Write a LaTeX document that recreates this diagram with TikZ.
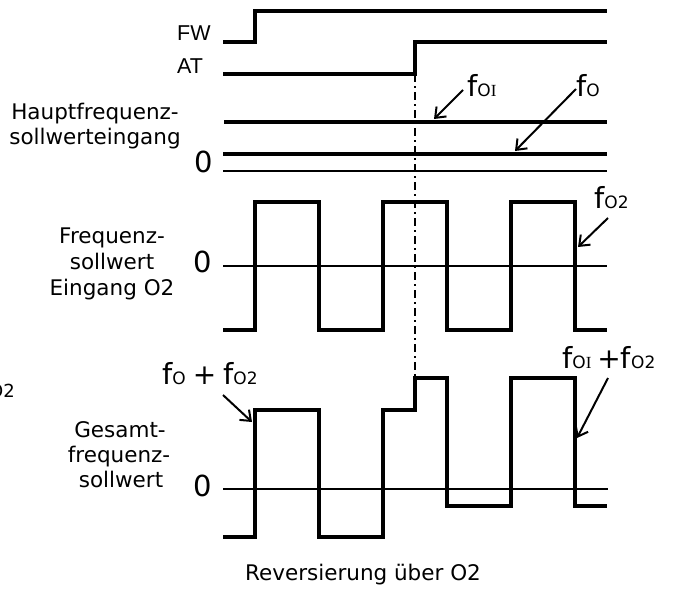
\documentclass[tikz,border=0pt]{standalone}
\usepackage{fontspec}
\setmainfont{DejaVu Sans}
\newfontfamily\arialf{Liberation Sans}
\newfontfamily\romanI{Liberation Serif}
\usetikzlibrary{arrows.meta}
\newcommand\lblfont{\fontsize{21.5}{25}\selectfont}
\newcommand\zerofont{\fontsize{29}{29}\selectfont}
\newcommand\fbig{{\fontsize{29}{29}\selectfont f}}
\newcommand\plusbig{{\fontsize{28}{28}\selectfont +}}
\newcommand\fsub[1]{{\fontsize{17}{17}\selectfont #1}}
\newcommand\romI{{\romanI I}}
\begin{document}
\begin{tikzpicture}[x=1pt,y=-1pt,
  sig/.style={line width=3.2pt, line join=miter},
  axisline/.style={line width=2pt},
  arr/.style={line width=2pt,-{Straight Barb[length=9pt,width=14pt,line width=2pt]}},
  txt/.style={inner sep=0pt, font=\lblfont, anchor=base},
  zlab/.style={inner sep=0pt, font=\zerofont},
  flab/.style={inner sep=0pt, anchor=base west},
  markerline/.style={line width=2pt, dash pattern=on 8pt off 4pt on 2pt off 4pt}]
\useasboundingbox (0,0) rectangle (674,590);

% ---- top panel ----
\node[inner sep=0pt, anchor=base west, font=\arialf\fontsize{21.5}{21.5}\selectfont] (fw) at (177,40) {FW};
\node[inner sep=0pt, anchor=base west, font=\arialf\fontsize{21.5}{21.5}\selectfont] (at) at (177,73) {AT};
\draw[sig] (223,42) -- (255,42) -- (255,11) -- (607,11);
\draw[sig] (223,74) -- (415,74) -- (415,42) -- (607,42);
\draw[sig] (224,122) -- (607,122);
\draw[sig] (223,154) -- (607,154);
\draw[line width=1.8pt] (223,171) -- (607,171);
\node[txt] (hf1) at (95,119) {Hauptfrequenz-};
\node[txt] (hf2) at (95,144) {sollwerteingang};
\node[zlab] (z1) at (204,162) {0};
\node[flab] (lOI) at (467,96) {\fbig\fsub{O\romI}};
\node[flab] (lO) at (576,96) {\fbig\fsub{O}};
\coordinate (aOIs) at (463,90); \coordinate (aOIe) at (434,119);
\coordinate (aOs) at (576,89);  \coordinate (aOe) at (515,151);
\draw[arr] (aOIs) -- (aOIe);
\draw[arr] (aOs) -- (aOe);

% ---- marker ----
\coordinate (mtop) at (415,74); \coordinate (mbot) at (415,378);
\draw[markerline] (mtop) -- (mbot);

% ---- middle panel ----
\node[txt] (fr1) at (112,243) {Frequenz-};
\node[txt] (fr2) at (112,269) {sollwert};
\node[txt] (fr3) at (112,295) {Eingang O2};
\node[zlab] (z2) at (203,262) {0};
\draw[axisline] (223,266) -- (607,266);
\draw[sig] (223,330) -- (255,330) -- (255,202) -- (319,202) -- (319,330) -- (383,330) -- (383,202) -- (447,202) -- (447,330) -- (511,330) -- (511,202) -- (575,202) -- (575,330) -- (607,330);
\node[flab] (lO2) at (594,208) {\fbig\fsub{O2}};
\coordinate (aO2s) at (608,218); \coordinate (aO2e) at (578,247);
\draw[arr] (aO2s) -- (aO2e);

% ---- bottom panel ----
\node[txt] (gs1) at (120,437) {Gesamt-};
\node[txt] (gs2) at (119,462) {frequenz-};
\node[txt] (gs3) at (121,487) {sollwert};
\node[zlab] (z3) at (203,486) {0};
\draw[axisline] (223,489) -- (608,489);
\draw[sig] (223,537) -- (255,537) -- (255,410) -- (319,410) -- (319,537) -- (383,537) -- (383,410) -- (415,410) -- (415,378) -- (447,378) -- (447,506) -- (511,506) -- (511,378) -- (575,378) -- (575,506) -- (607,506);
\node[flab] (lsum1) at (162,384) {\fbig\fsub{O}\hspace{7pt}\plusbig\hspace{7pt}\fbig\fsub{O2}};
\node[flab] (lsum2) at (562,368) {\fbig\fsub{O\romI}\hspace{6pt}\plusbig\fbig\fsub{O2}};
\coordinate (as1s) at (223,395); \coordinate (as1e) at (252,422);
\coordinate (as2s) at (608,378); \coordinate (as2e) at (577,438);
\draw[arr] (as1s) -- (as1e);
\draw[arr] (as2s) -- (as2e);

\node[txt] (rev) at (363,580) {Reversierung über O2};
\node[inner sep=0pt, anchor=base east, font=\fontsize{18}{18}\selectfont] (stray) at (15,397) {O2};
\end{tikzpicture}
\end{document}
